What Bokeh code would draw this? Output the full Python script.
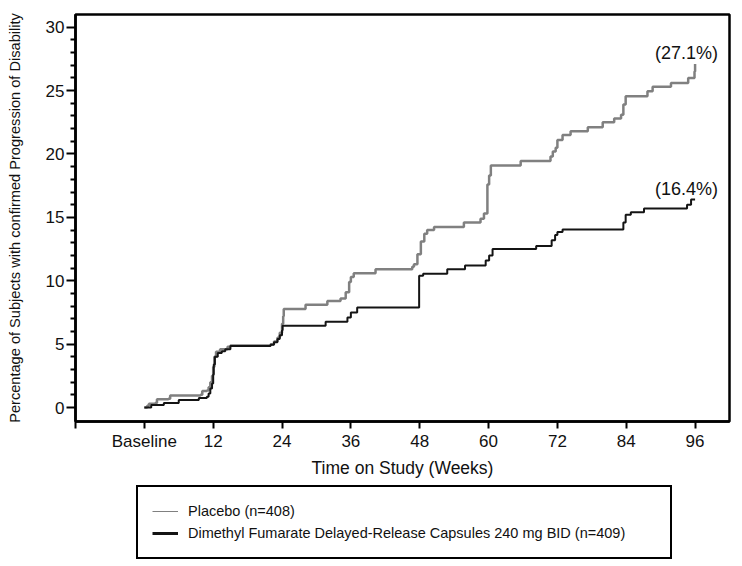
from bokeh.plotting import figure
from bokeh.layouts import column
from bokeh.models import FixedTicker, Legend, LegendItem, Range1d
from bokeh.core.properties import value
from bokeh.embed import file_html
from bokeh.resources import INLINE

# ---------------- data ----------------
placebo_weeks = [0, 0.5, 0.8, 1.9, 2.2, 4.2, 4.5, 9.8, 10.1, 10.9, 11.2, 11.5, 11.8, 12.0,
                 12.2, 12.5, 13.2, 14.5, 15.0, 22.0, 22.6, 23.2, 23.6, 24.0, 24.2, 24.3,
                 28.1, 31.9, 34.2, 35.1, 35.7, 36.0, 36.5, 40.3, 46.7, 47.0, 47.6, 48.2,
                 48.8, 49.3, 50.5, 55.7, 58.6, 59.2, 59.8, 60.1, 60.4, 65.6, 70.8, 71.2,
                 71.7, 72.0, 72.9, 74.3, 77.3, 79.9, 81.9, 83.1, 83.5, 83.9, 87.7, 88.6,
                 91.8, 94.8, 95.9, 96.0]
placebo_pct = [0, 0.15, 0.3, 0.35, 0.65, 0.7, 0.95, 1.0, 1.3, 1.35, 1.6, 2.0, 2.5, 3.2,
               4.0, 4.4, 4.6, 4.8, 4.9, 5.0, 5.2, 5.5, 5.9, 6.6, 7.2, 7.77,
               8.1, 8.4, 8.6, 9.1, 9.9, 10.3, 10.6, 10.9, 11.1, 11.3, 12.1, 13.1,
               13.7, 14.0, 14.25, 14.6, 14.9, 15.3, 17.6, 18.3, 19.1, 19.45, 19.8, 20.2,
               20.5, 21.1, 21.5, 21.8, 22.1, 22.5, 22.8, 23.1, 23.9, 24.55, 24.95, 25.3,
               25.6, 26.0, 26.5, 27.1]

dmf_weeks = [0, 1.2, 3.4, 6.0, 9.5, 10.9, 11.2, 11.5, 11.8, 12.0, 12.1, 12.3, 12.8, 13.5,
             14.1, 15.0, 22.0, 22.6, 23.2, 23.6, 24.0, 24.1, 31.6, 35.4, 36.0, 37.1,
             47.9, 48.6, 52.8, 55.9, 59.5, 60.1, 60.7, 68.3, 71.0, 71.6, 72.0, 72.9,
             83.5, 83.9, 84.8, 87.1, 94.6, 95.3, 96.0]
dmf_pct = [0, 0.2, 0.35, 0.6, 0.75, 0.85, 1.1, 1.5, 1.9, 2.6, 3.4, 4.0, 4.3, 4.45,
           4.6, 4.85, 4.95, 5.15, 5.4, 5.7, 6.1, 6.45, 6.77, 7.1, 7.5, 7.9,
           10.4, 10.55, 10.9, 11.2, 11.6, 12.0, 12.5, 12.75, 13.2, 13.6, 13.85, 14.05,
           14.6, 15.2, 15.4, 15.7, 16.0, 16.4, 16.4]

x_ticks = [-12, 0, 12, 24, 36, 48, 60, 72, 84, 96]
x_tick_labels = {-12: "", 0: "Baseline"}
y_ticks = [0, 5, 10, 15, 20, 25, 30]
y_minor_ticks = [v for v in range(1, 30) if v % 5 != 0]

end_labels = ["(27.1%)", "(16.4%)"]
end_label_x = [94.5, 94.5]
end_label_y = [28.0, 17.2]

legend_labels = ["Placebo (n=408)",
                 "Dimethyl Fumarate Delayed-Release Capsules 240 mg BID (n=409)"]

FONT = "Liberation Sans"
GRAY = "#808080"
DARK = "#141414"
TXT = "#111111"

# ---------------- main figure ----------------
p = figure(width=742, height=480, output_backend="svg", toolbar_location=None,
           x_range=Range1d(-12, 102), y_range=Range1d(-1.1, 31.0),
           min_border_left=75, min_border_right=13, min_border_top=14,
           min_border_bottom=58)
p.xgrid.visible = False
p.ygrid.visible = False
p.outline_line_color = "black"
p.outline_line_width = 2.5
p.outline_line_alpha = 1.0
p.background_fill_color = "white"
p.border_fill_color = "white"

xa = p.xaxis[0]
xa.ticker = FixedTicker(ticks=x_ticks)
xa.major_label_overrides = x_tick_labels
xa.axis_label = "Time on Study (Weeks)"
ya = p.yaxis[0]
ya.ticker = FixedTicker(ticks=y_ticks, minor_ticks=y_minor_ticks)
ya.axis_label = "Percentage of Subjects with confirmed Progression of Disability"

for ax in (xa, ya):
    ax.axis_line_width = 2.5
    ax.axis_line_color = "black"
    ax.major_tick_line_width = 2
    ax.major_tick_line_color = "black"
    ax.minor_tick_line_width = 2
    ax.minor_tick_line_color = "black"
    ax.major_tick_in = 0
    ax.minor_tick_in = 0
    ax.major_label_text_font = FONT
    ax.major_label_text_font_size = "17px"
    ax.major_label_text_color = TXT
    ax.axis_label_text_font = FONT
    ax.axis_label_text_font_style = "normal"
    ax.axis_label_text_color = TXT

xa.major_tick_out = 7
xa.minor_tick_out = 0
xa.major_label_standoff = 3
xa.axis_label_text_font_size = "17.5px"
xa.axis_label_standoff = 4

ya.major_tick_out = 9
ya.minor_tick_out = 5
ya.major_label_standoff = 2
ya.axis_label_text_font_size = "14.6px"
ya.axis_label_standoff = 20

p.step(placebo_weeks, placebo_pct, mode="after", line_color=GRAY, line_width=2.5)
p.step(dmf_weeks, dmf_pct, mode="after", line_color=DARK, line_width=2)

p.text(x=end_label_x, y=end_label_y, text=end_labels, text_font=value(FONT),
       text_font_size="18px", text_align="center", text_baseline="middle",
       text_color=TXT)

# ---------------- legend panel (frame aligned with the main frame) ----------------
p2 = figure(width=742, height=84, output_backend="svg", toolbar_location=None,
            x_range=Range1d(0, 1), y_range=Range1d(0, 1),
            x_axis_type=None, y_axis_type=None,
            min_border_left=0, min_border_right=0, min_border_top=0,
            min_border_bottom=0)
p2.xgrid.visible = False
p2.ygrid.visible = False
p2.outline_line_color = None
p2.background_fill_color = "white"
p2.border_fill_color = "white"

nan = float("nan")
r_leg_placebo = p2.line([nan], [nan], line_color=GRAY, line_width=1)
r_leg_dmf = p2.line([nan], [nan], line_color=DARK, line_width=3)
legend = Legend(items=[LegendItem(label=legend_labels[0], renderers=[r_leg_placebo]),
                       LegendItem(label=legend_labels[1], renderers=[r_leg_dmf])],
                location=(61, 5), orientation="vertical",
                border_line_color="black", border_line_width=2.5,
                border_line_alpha=1.0,
                background_fill_color="white", background_fill_alpha=1.0,
                padding=14, spacing=2, margin=0,
                glyph_width=26, glyph_height=20,
                label_width=468, label_height=20, label_standoff=10,
                label_text_font=FONT, label_text_font_size="14.5px",
                label_text_color=TXT)
p2.add_layout(legend, "center")

layout = column(p, p2, spacing=0)
open("out.html", "w").write(file_html(layout, INLINE))
